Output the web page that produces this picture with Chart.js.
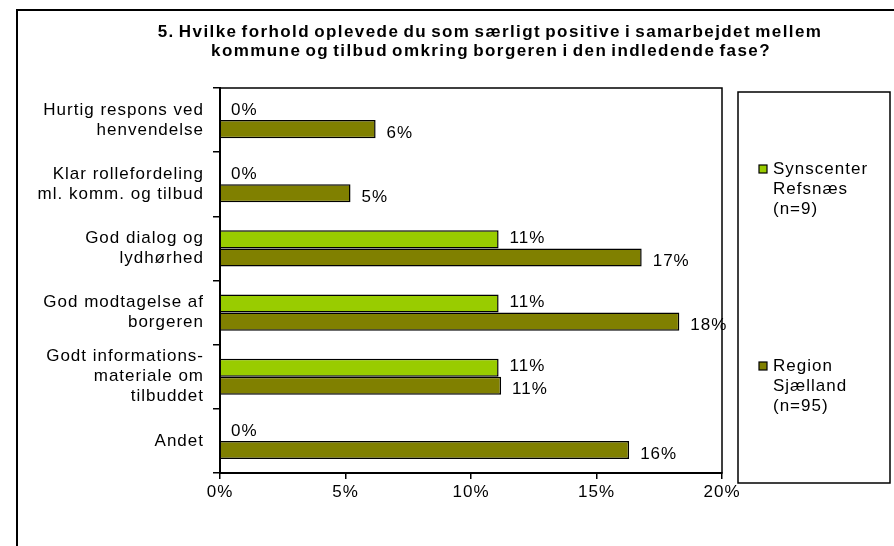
<!DOCTYPE html>
<html><head><meta charset="utf-8">
<script src="https://cdn.jsdelivr.net/npm/chart.js@4/dist/chart.umd.min.js"></script>
<style>html,body{margin:0;padding:0;background:#fff}#wrap{position:relative;width:894px;height:546px}</style>
</head><body><div id="wrap"><canvas id="c" width="894" height="546"></canvas></div>
<script>
const titleLines = ['5. Hvilke forhold oplevede du som særligt positive i samarbejdet mellem', 'kommune og tilbud omkring borgeren i den indledende fase?'];
const categories = [['Hurtig respons ved', 'henvendelse'], ['Klar rollefordeling', 'ml. komm. og tilbud'], ['God dialog og', 'lydhørhed'], ['God modtagelse af', 'borgeren'], ['Godt informations-', 'materiale om', 'tilbuddet'], ['Andet']];
const synscenterValues = [0, 0, 11.1, 11.1, 11.1, 0];
const regionValues = [6.2, 5.2, 16.8, 18.3, 11.2, 16.3];
const seriesNames = [['Synscenter', 'Refsnæs', '(n=9)'], ['Region', 'Sjælland', '(n=95)']];
const seriesColors = ['#99CC00', '#808000'];
const xTicks = [0, 5, 10, 15, 20];

const FONT = "'Liberation Sans', Arial, sans-serif";

const decor = {
  id: 'decor',
  beforeDraw(chart) {
    const ctx = chart.ctx;
    ctx.save();
    ctx.fillStyle = '#fff';
    ctx.fillRect(0, 0, chart.width, chart.height);
    ctx.strokeStyle = '#000';
    ctx.lineWidth = 2;
    ctx.strokeRect(17, 10, 1000, 1000);
    ctx.lineWidth = 1.5;
    ctx.strokeRect(738, 92, 152, 391);
    ctx.restore();
    try { ctx.letterSpacing = '1px'; } catch (e) {}
  },
  afterDatasetsDraw(chart) {
    const ctx = chart.ctx;
    ctx.save();
    try { ctx.letterSpacing = '1px'; } catch (e) {}
    ctx.font = '17px ' + FONT;
    ctx.fillStyle = '#000';
    ctx.textAlign = 'left';
    ctx.textBaseline = 'middle';
    chart.data.datasets.forEach((ds, di) => {
      const meta = chart.getDatasetMeta(di);
      meta.data.forEach((el, i) => {
        const v = ds.data[i];
        ctx.fillText(Math.round(v) + '%', el.x + 11, el.y + (di === 0 ? -1 : 4));
      });
    });
    ctx.restore();
  },
  afterDraw(chart) {
    const ctx = chart.ctx;
    const a = chart.chartArea;
    ctx.save();
    ctx.strokeStyle = '#000';
    ctx.lineWidth = 1.5;
    ctx.strokeRect(a.left, a.top, a.right - a.left, a.bottom - a.top);
    // title
    ctx.fillStyle = '#000';
    ctx.font = 'bold 17px ' + FONT;
    ctx.textAlign = 'center';
    ctx.textBaseline = 'alphabetic';
    try { ctx.letterSpacing = '0px'; ctx.wordSpacing = '-2px'; } catch (e) {}
    const w0 = ctx.measureText(titleLines[0]).width;
    const ls = (665 - w0) / titleLines[0].length;
    try { ctx.letterSpacing = ls.toFixed(2) + 'px'; } catch (e) {}
    ctx.fillText(titleLines[0], 490, 37);
    ctx.fillText(titleLines[1], 491, 56);
    try { ctx.wordSpacing = '0px'; } catch (e) {}
    // legend
    try { ctx.letterSpacing = '1px'; } catch (e) {}
    ctx.font = '17px ' + FONT;
    ctx.textAlign = 'left';
    ctx.textBaseline = 'middle';
    const ys = [169, 366];
    chart.data.datasets.forEach((ds, di) => {
      const cy = ys[di];
      ctx.fillStyle = ds.backgroundColor;
      ctx.fillRect(759, cy - 4, 8, 8);
      ctx.lineWidth = 1.2;
      ctx.strokeStyle = '#000';
      ctx.strokeRect(759, cy - 4, 8, 8);
      ctx.fillStyle = '#000';
      seriesNames[di].forEach((t, k) => ctx.fillText(t, 773, cy + k * 20));
    });
    ctx.restore();
  }
};

new Chart(document.getElementById('c'), {
  type: 'bar',
  data: {
    labels: categories,
    datasets: [
      { label: seriesNames[0].join(' '), data: synscenterValues, backgroundColor: seriesColors[0], borderColor: '#000', borderWidth: 1.5, categoryPercentage: 0.5625, barPercentage: 1 },
      { label: seriesNames[1].join(' '), data: regionValues, backgroundColor: seriesColors[1], borderColor: '#000', borderWidth: 1.5, categoryPercentage: 0.5625, barPercentage: 1 }
    ]
  },
  options: {
    indexAxis: 'y',
    responsive: false,
    animation: false,
    devicePixelRatio: 1,
    layout: { padding: { top: 88, right: 172, bottom: 0, left: 0 } },
    plugins: { legend: { display: false }, title: { display: false }, tooltip: { enabled: false } },
    scales: {
      x: {
        type: 'linear', min: 0, max: 20, position: 'bottom',
        afterBuildTicks(s) { s.ticks = xTicks.map(v => ({ value: v })); },
        afterFit(s) { s.height = 73; },
        ticks: { callback: v => v + '%', color: '#000', font: { family: FONT, size: 17 }, padding: 3, maxRotation: 0, autoSkip: false },
        grid: { drawOnChartArea: false, drawTicks: true, tickLength: 6, color: '#000', lineWidth: 1.5 },
        border: { color: '#000', width: 2 }
      },
      y: {
        type: 'category', position: 'left',
        afterFit(s) { s.width = 220; },
        ticks: { color: '#000', font: { family: FONT, size: 17, lineHeight: 20 / 17 }, padding: 9, autoSkip: false },
        grid: { offset: true, drawOnChartArea: false, drawTicks: true, tickLength: 7, color: '#000', lineWidth: 1.5 },
        border: { color: '#000', width: 2 }
      }
    }
  },
  plugins: [decor]
});
</script>
</body></html>
